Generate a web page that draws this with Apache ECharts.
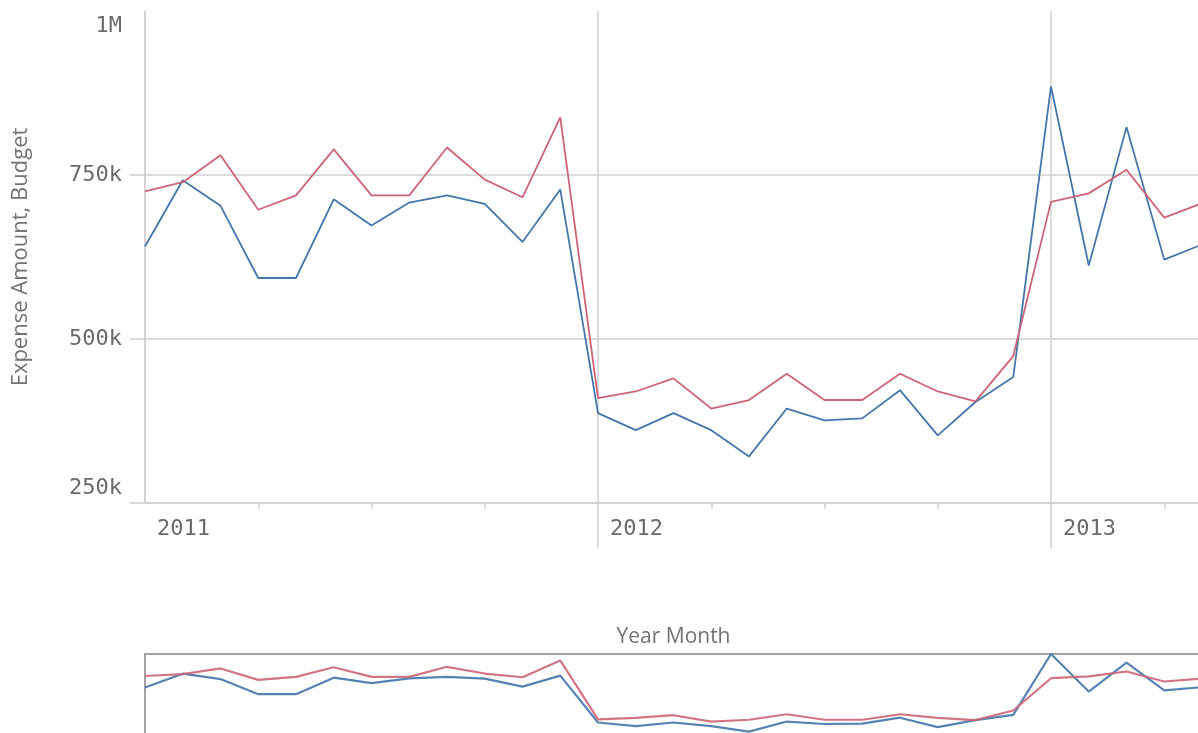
<!DOCTYPE html>
<html>
<head>
<meta charset="utf-8">
<script src="https://cdn.jsdelivr.net/npm/echarts@6/dist/echarts.min.js"></script>
<style>
  html, body { margin: 0; padding: 0; background: #ffffff; }
  #chart { width: 1198px; height: 733px; }
</style>
</head>
<body>
<div id="chart"></div>
<script>
// Monthly categories (Year Month)
const months = [
  '2011-01','2011-02','2011-03','2011-04','2011-05','2011-06',
  '2011-07','2011-08','2011-09','2011-10','2011-11','2011-12',
  '2012-01','2012-02','2012-03','2012-04','2012-05','2012-06',
  '2012-07','2012-08','2012-09','2012-10','2012-11','2012-12',
  '2013-01','2013-02','2013-03','2013-04','2013-05'
];

// Values in thousands
const expenseAmount = [
  641, 742, 703, 593, 593, 713, 673, 708, 719, 706, 648, 728,
  387, 361, 387, 361, 321, 394, 376, 379, 422, 353, 404, 442,
  885, 612, 823, 621, 644
];
const budget = [
  725, 739, 780, 697, 719, 789, 719, 719, 792, 743, 716, 838,
  410, 420, 440, 394, 407, 447, 407, 407, 447, 420, 405, 474,
  709, 722, 758, 685, 707
];

// Value-axis ticks and their labels
const yTickValues = [250, 500, 750, 1000];
const yTickLabels = ['250k', '500k', '750k', '1M'];

const BLUE = '#4477aa';
const RED = '#cc6677';
const GRID_LINE = '#d0d0d0';
const MONO = '"DejaVu Sans Mono", "Liberation Mono", monospace';
const SANS = '"Open Sans", "Noto Sans", sans-serif';

const chart = echarts.init(document.getElementById('chart'), null, { renderer: 'canvas' });

const plotLeft = 145;
const plotWidth = 1057;

const option = {
  animation: false,
  backgroundColor: '#ffffff',
  grid: [
    { left: plotLeft, top: 11, width: plotWidth, height: 492,
      containLabel: false, outerBoundsMode: 'none' },
    { left: plotLeft, top: 654, width: plotWidth, height: 90,
      containLabel: false, outerBoundsMode: 'none',
      show: true, borderColor: '#a3a3a3', borderWidth: 2, backgroundColor: 'transparent' }
  ],
  xAxis: [
    {
      type: 'category', gridIndex: 0, data: months, boundaryGap: false,
      axisLine: { show: true, lineStyle: { color: GRID_LINE, width: 1.5 } },
      axisTick: {
        show: true, length: 6,
        interval: (i) => i % 3 === 0 && i % 12 !== 0,
        lineStyle: { color: GRID_LINE, width: 1.5 }
      },
      axisLabel: {
        interval: (i) => i % 12 === 0,
        formatter: (v) => v.slice(0, 4),
        align: 'left', padding: [0, 0, 0, 12], margin: 15,
        fontFamily: MONO, fontSize: 22, color: '#6a6a6a'
      },
      splitLine: {
        show: true, interval: (i) => i % 12 === 0,
        lineStyle: { color: GRID_LINE, width: 1.5 }
      },
      name: 'Year Month', nameLocation: 'middle', nameGap: 124,
      nameTextStyle: { fontFamily: SANS, fontSize: 21, color: '#737373' }
    },
    {
      type: 'category', gridIndex: 0, data: months, boundaryGap: false, position: 'bottom',
      axisLine: { show: false },
      axisTick: {
        show: true, length: 45,
        interval: (i) => i % 12 === 0 && i > 0,
        lineStyle: { color: GRID_LINE, width: 1.5 }
      },
      axisLabel: { show: false },
      splitLine: { show: false }
    },
    {
      type: 'category', gridIndex: 1, data: months, boundaryGap: false, show: false
    }
  ],
  yAxis: [
    {
      type: 'value', gridIndex: 0, min: 250, max: 1000, interval: 250,
      axisLine: { show: true, lineStyle: { color: GRID_LINE, width: 1.5 } },
      axisTick: {
        show: true, length: 15, customValues: yTickValues.slice(0, 3),
        lineStyle: { color: GRID_LINE, width: 1.5 }
      },
      axisLabel: {
        margin: 23, lineHeight: 30,
        fontFamily: MONO, fontSize: 22, color: '#6a6a6a',
        formatter: (v) => {
          const idx = yTickValues.indexOf(v);
          const text = idx >= 0 ? yTickLabels[idx] : '';
          if (v === yTickValues[yTickValues.length - 1]) return '\n' + text;
          if (v === yTickValues[0]) return text + '\n';
          return text;
        }
      },
      splitLine: { show: true, lineStyle: { color: GRID_LINE, width: 1.5 } },
      name: 'Expense Amount, Budget', nameLocation: 'middle', nameGap: 113, nameRotate: 90,
      nameTextStyle: { fontFamily: SANS, fontSize: 22, color: '#737373' }
    },
    {
      type: 'value', gridIndex: 1, show: false, scale: true,
      min: (r) => r.min - (r.max - r.min) * 0.16,
      max: 'dataMax'
    }
  ],
  series: [
    {
      name: 'Expense Amount', type: 'line', xAxisIndex: 0, yAxisIndex: 0,
      data: expenseAmount, symbol: 'none', silent: true,
      lineStyle: { color: BLUE, width: 1.8 }, itemStyle: { color: BLUE }
    },
    {
      name: 'Budget', type: 'line', xAxisIndex: 0, yAxisIndex: 0,
      data: budget, symbol: 'none', silent: true,
      lineStyle: { color: RED, width: 1.8 }, itemStyle: { color: RED }
    },
    {
      name: 'Expense Amount (overview)', type: 'line', xAxisIndex: 2, yAxisIndex: 1,
      data: expenseAmount, symbol: 'none', silent: true,
      lineStyle: { color: BLUE, width: 2.2, opacity: 0.9 }, itemStyle: { color: BLUE }
    },
    {
      name: 'Budget (overview)', type: 'line', xAxisIndex: 2, yAxisIndex: 1,
      data: budget, symbol: 'none', silent: true,
      lineStyle: { color: RED, width: 2.2, opacity: 0.9 }, itemStyle: { color: RED }
    }
  ]
};

chart.setOption(option);
</script>
</body>
</html>
